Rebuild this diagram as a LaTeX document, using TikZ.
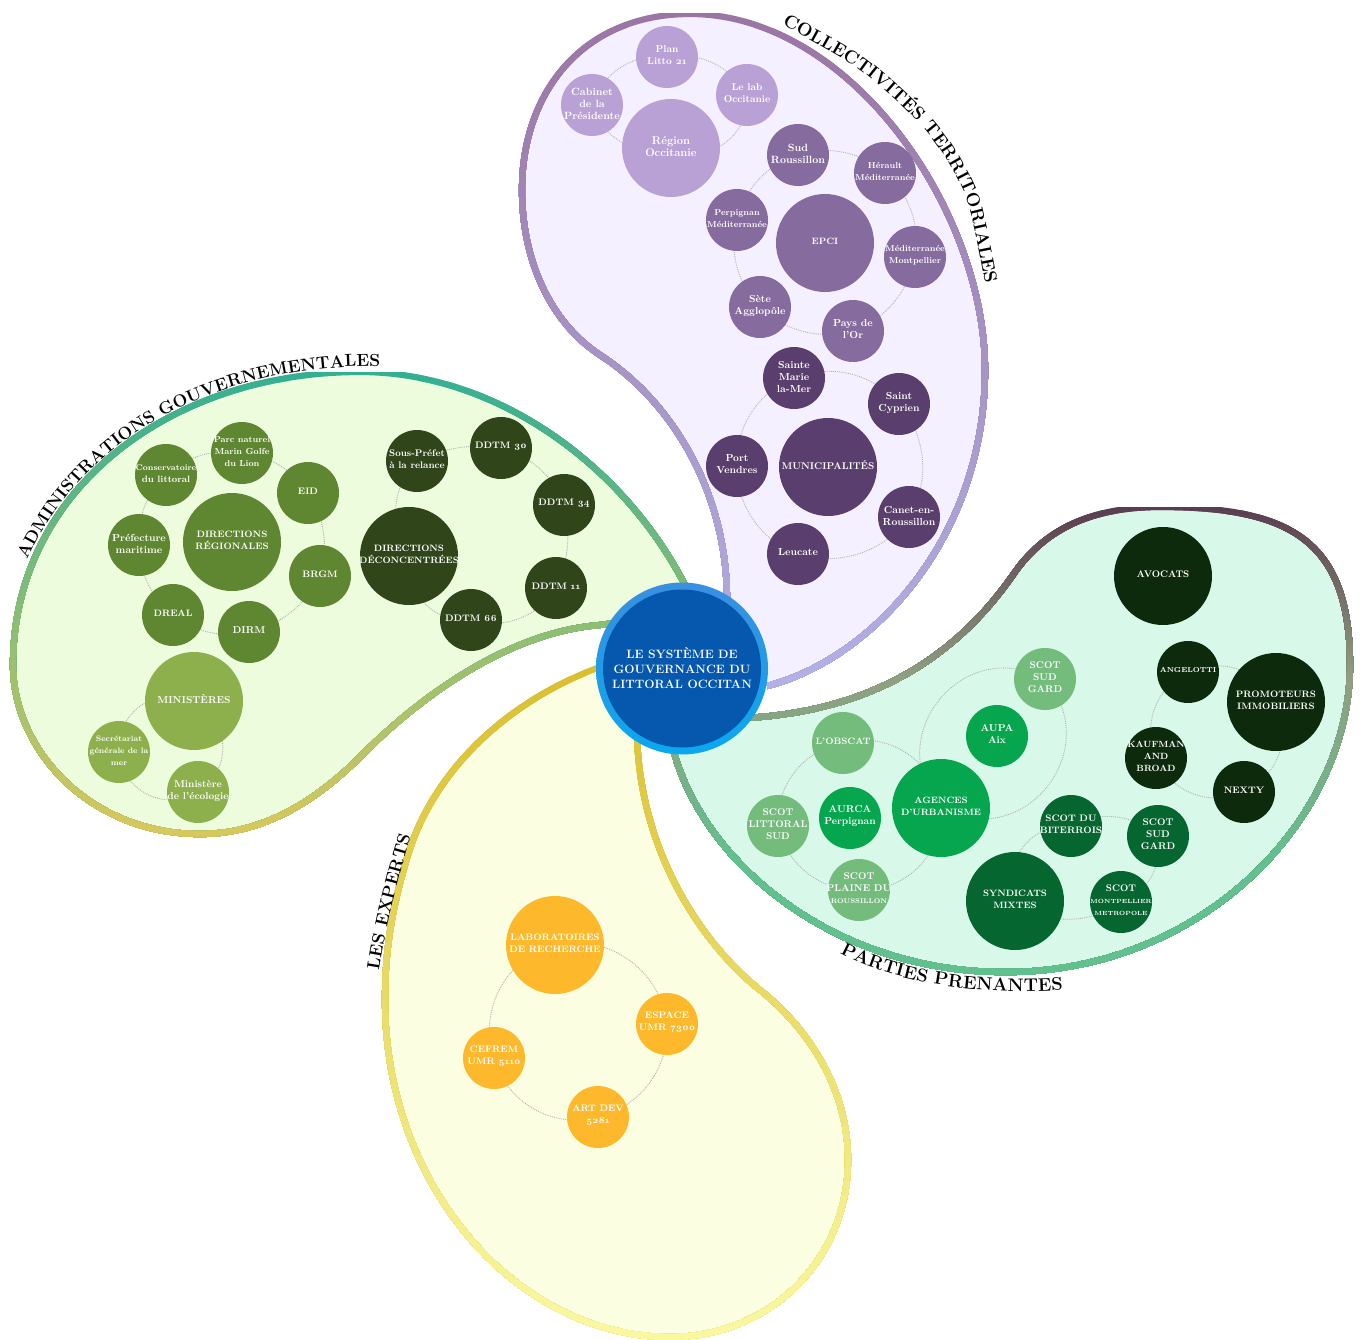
\documentclass[tikz,border=0pt]{standalone}
\usepackage{fontspec}
\setmainfont{Latin Modern Roman}[Numbers=OldStyle]
\usetikzlibrary{decorations.text}
\pgfdeclarelayer{petals}
\pgfdeclarelayer{links}
\pgfsetlayers{petals,links,main}
\newcommand\fz[1]{\fontsize{#1}{12}\selectfont}
\newcommand\bub[6][10.2]{\node[#5,label={[bubtext,font=\bfseries\fz{#1}]center:{#6}}] (#2) at (#3,#4) {};}
% gradient stroke: path macro, ytop, ybottom, top colour, bottom colour, width
\newcommand\gradstroke[6]{%
  \foreach \i in {0,...,47}{%
    \pgfmathsetmacro\yy{#2+(#3-#2)*(\i/48)}%
    \pgfmathsetmacro\pp{100-100*(\i/47)}%
    \begin{scope}
      \clip (-5,\yy) rectangle (1365,1345);
      \draw[line width=#6,line join=round,color={#4!\pp!#5}] #1;
    \end{scope}}}
\newcommand\ptop{(767,686) .. controls (870,660) and (985,540) .. (985,370) .. controls (985,210) and (850,14) .. (690,14) .. controls (585,14) and (522,90) .. (522,190) .. controls (522,260) and (550,322) .. (600,355) .. controls (670,400) and (727,490) .. (727,600)}
\newcommand\pleft{(630,621) -- (600,625) .. controls (510,632) and (420,695) .. (355,762) .. controls (310,805) and (260,834) .. (200,834) .. controls (90,834) and (13,750) .. (13,665) .. controls (13,490) and (170,372) .. (360,372) .. controls (500,372) and (630,470) .. (690,595)}
\newcommand\pright{(672,745) .. controls (700,860) and (830,970) .. (1000,972) .. controls (1200,975) and (1350,820) .. (1350,665) .. controls (1350,540) and (1290,507) .. (1160,507) .. controls (1090,507) and (1045,530) .. (1015,572) .. controls (975,630) and (900,710) .. (745,718)}
\newcommand\pbot{(630,656) -- (600,667) .. controls (510,700) and (430,770) .. (405,865) .. controls (392,910) and (385,950) .. (385,1000) .. controls (385,1190) and (520,1337) .. (670,1337) .. controls (770,1337) and (848,1260) .. (848,1160) .. controls (848,1090) and (810,1030) .. (760,990) .. controls (700,942) and (640,850) .. (637,735)}
\definecolor{cA}{HTML}{B9A1D6}
\definecolor{cB}{HTML}{866B9E}
\definecolor{cC}{HTML}{5A3E6E}
\definecolor{cD}{HTML}{5F8630}
\definecolor{cE}{HTML}{30451A}
\definecolor{cF}{HTML}{8DB04C}
\definecolor{cG}{HTML}{FDB92B}
\definecolor{cH}{HTML}{0E2A0C}
\definecolor{cI}{HTML}{05A64E}
\definecolor{cJ}{HTML}{73BC7C}
\definecolor{cK}{HTML}{05662F}
\definecolor{fT}{HTML}{F5F0FF}
\definecolor{fL}{HTML}{ECFCDD}
\definecolor{fB}{HTML}{FCFEE2}
\definecolor{fR}{HTML}{D8F8EA}
\definecolor{sTa}{HTML}{9A76A4}
\definecolor{sTb}{HTML}{B2B0E4}
\definecolor{sLa}{HTML}{35AF92}
\definecolor{sLb}{HTML}{D6C85C}
\definecolor{sBa}{HTML}{D9BE30}
\definecolor{sBb}{HTML}{F9F8A0}
\definecolor{sRa}{HTML}{5A3E50}
\definecolor{sRm}{HTML}{8F9F80}
\definecolor{sRb}{HTML}{62C08F}
\definecolor{HubA}{HTML}{3A8FE0}
\definecolor{HubB}{HTML}{0AA8EE}
\definecolor{HubC}{HTML}{0558AD}
\tikzset{
  big/.style={circle,inner sep=0pt,minimum size=98pt,fill=#1},
  sat/.style={circle,inner sep=0pt,minimum size=62pt,fill=#1},
  bubtext/.style={align=center,text=white,inner sep=0pt,yshift=1.5pt},
  link/.style={draw=black!30,line width=.9pt,dash pattern=on .9pt off 1pt},
  petaltitle/.style 2 args={decorate,decoration={text along path,text={|\bfseries\fontsize{#1}{#1}\selectfont|#2}}}
}
\begin{document}
\begin{tikzpicture}[x=1pt,y=-1pt]
\useasboundingbox (0,0) rectangle (1360,1340);
\begin{pgfonlayer}{petals}
\fill[white] (0,0) rectangle (1360,1340);
\fill[fT] \ptop -- cycle;
\gradstroke{\ptop}{14}{690}{sTa}{sTb}{6.2pt}
\fill[fL] \pleft -- cycle;
\gradstroke{\pleft}{372}{834}{sLa}{sLb}{6.2pt}
\fill[fB] \pbot -- cycle;
\gradstroke{\pbot}{662}{1337}{sBa}{sBb}{6.2pt}
\fill[fR] \pright -- cycle;
\gradstroke{\pright}{507}{680}{sRa}{sRm}{6.2pt}
\gradstroke{\pright}{680}{860}{sRm}{sRb}{6.2pt}
\end{pgfonlayer}
% bubbles: top petal
\bub[11.2]{reg}{671}{148}{big=cA}{Région\\Occitanie}
\bub[10.5]{cab}{592}{105}{sat=cA}{Cabinet\\de la\\Présidente}
\bub[9.9]{pla}{667}{57}{sat=cA}{Plan\\Litto 21}
\bub[9.9]{lab}{747}{95}{sat=cA}{Le lab\\Occitanie}
\bub[9.2]{epc}{825}{243}{big=cB}{EPCI}
\bub[10.5]{sro}{798}{155}{sat=cB}{Sud\\Roussillon}
\bub[8.6]{her}{885}{173}{sat=cB}{Hérault\\Méditerranée}
\bub[8.6]{med}{915}{257}{sat=cB}{Méditerranée\\Montpellier}
\bub{pay}{853}{331}{sat=cB}{Pays de\\l'Or}
\bub{set}{760}{307}{sat=cB}{Sète\\Agglopôle}
\bub[8.6]{per}{737}{220}{sat=cB}{Perpignan\\Méditerranée}
\bub[9.8]{mun}{828}{467}{big=cC}{MUNICIPALITÉS}
\bub{sma}{794}{378}{sat=cC}{Sainte\\Marie\\la-Mer}
\bub{scy}{899}{404}{sat=cC}{Saint\\Cyprien}
\bub{can}{909}{517}{sat=cC}{Canet-en-\\Roussillon}
\bub{leu}{798}{554}{sat=cC}{Leucate}
\bub{pve}{737}{466}{sat=cC}{Port\\Vendres}
% left petal
\bub[9.3]{dre}{232}{542}{big=cD}{DIRECTIONS\\RÉGIONALES}
\bub[9.2]{con}{166}{475}{sat=cD}{{\fz{8.2}Conservatoire}\\du littoral}
\bub[8.7]{par}{242}{453}{sat=cD}{Parc naturel\\Marin Golfe\\du Lion}
\bub[9.4]{eid}{308}{493}{sat=cD}{EID}
\bub[9.4]{brg}{320}{576}{sat=cD}{BRGM}
\bub[10]{dim}{249}{632}{sat=cD}{DIRM}
\bub[9.3]{dra}{173}{615}{sat=cD}{DREAL}
\bub[10.2]{pre}{139}{545}{sat=cD}{Préfecture\\maritime}
\bub[9.2]{ddc}{409}{556}{big=cE}{DIRECTIONS\\DÉCONCENTRÉES}
\bub[9.6]{spr}{417}{461}{sat=cE}{Sous-Préfet\\à la relance}
\bub[9.4]{d30}{501}{448}{sat=cE}{DDTM 30}
\bub[9.4]{d34}{564}{505}{sat=cE}{DDTM 34}
\bub[9.4]{d11}{556}{588}{sat=cE}{DDTM 11}
\bub[9.4]{d66}{471}{620}{sat=cE}{DDTM 66}
\bub[10]{mns}{194}{701}{big=cF}{MINISTÈRES}
\bub[7.9]{sec}{119}{752}{sat=cF}{Secrétariat\\générale de la\\mer}
\bub[10]{eco}{198}{792}{sat=cF}{Ministère\\de l'écologie}
% bottom petal
\bub[9.4]{rec}{555}{945}{big=cG}{LABORATOIRES\\DE RECHERCHE}
\bub[9.5]{esp}{667}{1024}{sat=cG}{ESPACE\\UMR 7300}
\bub[9.4]{art}{598}{1117}{sat=cG}{ART DEV\\5281}
\bub[9.4]{cef}{494}{1058}{sat=cG}{CEFREM\\UMR 5110}
% right petal
\bub[9.6]{avo}{1163}{576}{big=cH}{AVOCATS}
\bub[9.3]{pro}{1276}{702}{big=cH}{PROMOTEURS\\IMMOBILIERS}
\bub[7.2]{ang}{1188}{672}{sat=cH}{ANGELOTTI}
\bub[9]{kau}{1156}{758}{sat=cH}{KAUFMAN\\AND\\BROAD}
\bub[9.4]{nex}{1244}{792}{sat=cH}{NEXTY}
\bub[9.2]{age}{941}{808}{big=cI}{AGENCES\\D'URBANISME}
\bub[10]{aup}{997}{736}{sat=cI}{AUPA\\Aix}
\bub[10]{aur}{850}{818}{sat=cI}{AURCA\\Perpignan}
\bub[9.8]{sga}{1045}{679}{sat=cJ}{SCOT\\SUD\\GARD}
\bub[9.3]{obs}{843}{743}{sat=cJ}{L'OBSCAT}
\bub[9.8]{lit}{778}{826}{sat=cJ}{SCOT\\LITTORAL\\SUD}
\bub[9.8]{pln}{859}{890}{sat=cJ}{SCOT\\PLAINE DU\\{\fz{6.8}ROUSSILLON}}
\bub[9.2]{syn}{1015}{901}{big=cK}{SYNDICATS\\MIXTES}
\bub[9.4]{bit}{1071}{826}{sat=cK}{SCOT DU\\BITERROIS}
\bub[9.8]{sgb}{1158}{836}{sat=cK}{SCOT\\SUD\\GARD}
\bub[9.6]{mon}{1121}{902}{sat=cK}{SCOT\\{\fz{6}MONTPELLIER}\\{\fz{6}METROPOLE}}
% dotted arcs, behind the bubbles
\begin{pgfonlayer}{links}
\foreach \a/\b/\n in {cab/pla/40,pla/lab/36,lab/reg/60,reg/cab/45,
  sro/her/30,her/med/30,med/pay/30,pay/set/30,set/per/30,per/sro/30,
  sma/scy/36,scy/can/36,can/leu/36,leu/pve/36,pve/sma/36,
  con/par/26,par/eid/26,eid/brg/26,brg/dim/26,dim/dra/26,dra/pre/26,pre/con/26,
  ddc/spr/40,spr/d30/18,d30/d34/28,d34/d11/20,d11/d66/38,d66/ddc/52,
  mns/eco/61,eco/sec/59,sec/mns/60,
  rec/esp/48,esp/art/40,art/cef/45,cef/rec/47,
  pro/nex/46,nex/kau/46,kau/ang/44,ang/pro/44,
  age/pln/48,pln/lit/40,lit/obs/42,obs/age/49,
  syn/bit/58,bit/sgb/36,sgb/mon/41,mon/syn/37,
  age/sga/80,sga/age/80}
  {\pgfmathsetmacro\lo{(4/3)*tan(\n/2)/(2*sin(\n))/0.3915}
   \draw[link] (\a.center) to[bend left=\n,looseness=\lo] (\b.center);}
\end{pgfonlayer}
% centre
\node[circle,inner sep=0pt,minimum size=172pt,top color=HubA,bottom color=HubB] (rim) at (682,668.5) {};
\node[circle,inner sep=0pt,minimum size=158pt,fill=HubC,text=white,align=center,font=\bfseries\fontsize{12.1}{15}\selectfont] (hub) at (rim.center) {LE SYSTÈME DE\\GOUVERNANCE DU\\LITTORAL OCCITAN};
% titles
\path[petaltitle={18.3}{COLLECTIVITÉS TERRITORIALES}] plot[smooth] coordinates {(782,25)(860,70)(925,130)(965,195)(985,282)(988,300)};
\path[petaltitle={17.4}{ADMINISTRATIONS GOUVERNEMENTALES}] (27,560) .. controls (85,435) and (215,366) .. (378,366) -- (450,366);
\path[petaltitle={17.8}{LES EXPERTS}] (379,970) .. controls (386,925) and (398,878) .. (412,832) -- (430,775);
\path[petaltitle={18.3}{PARTIES PRENANTES}] (840,953) .. controls (900,985) and (980,995) .. (1062,990) -- (1130,985);
\end{tikzpicture}
\end{document}
